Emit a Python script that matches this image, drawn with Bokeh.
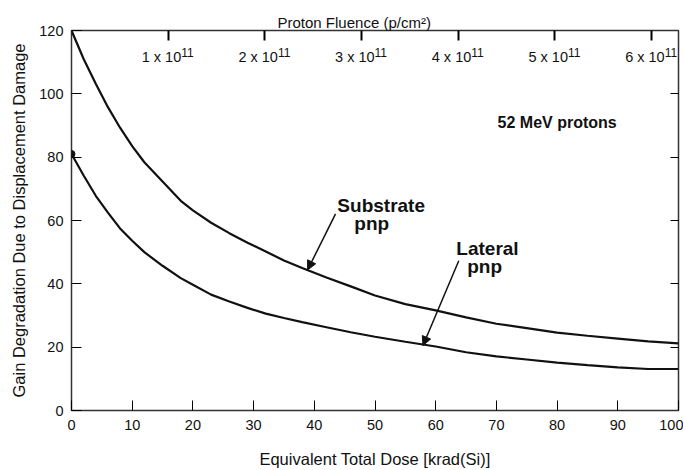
from bokeh.plotting import figure
from bokeh.models import (LinearAxis, FixedTicker, Range1d, Label, Arrow, NormalHead,
                          ColumnDataSource, CustomJSTickFormatter)
from bokeh.embed import file_html
from bokeh.resources import INLINE
from bokeh.core.properties import value

# ---- data ----
dose = [0, 2, 4, 6, 8, 10, 12, 15, 18, 20, 23, 26, 29, 32, 35, 38, 42, 46, 50,
        55, 60, 65, 70, 75, 80, 85, 90, 95, 100]
substrate = [120, 111, 103.2, 95.8, 89.3, 83.5, 78.4, 72.3, 66.2, 63.2, 59.3, 56.0,
             53.0, 50.2, 47.4, 45.0, 42.0, 39.2, 36.3, 33.6, 31.6, 29.4, 27.4, 26.0,
             24.6, 23.6, 22.7, 21.8, 21.2]
lateral = [81, 74.2, 67.8, 62.5, 57.5, 53.6, 50.0, 45.7, 41.8, 39.7, 36.6, 34.4,
           32.4, 30.6, 29.2, 27.9, 26.3, 24.7, 23.3, 21.7, 20.2, 18.4, 17.1, 16.1,
           15.1, 14.3, 13.6, 13.1, 13.1]

x_ticks = [0, 10, 20, 30, 40, 50, 60, 70, 80, 90, 100]
y_ticks = [0, 20, 40, 60, 80, 100, 120]
right_ticks = [20, 40, 60, 80, 100]
fluence_units = [1, 2, 3, 4, 5, 6]          # x 10^11 p/cm^2
dose_per_1e11 = 15.93                         # krad(Si) per 1e11 p/cm^2
fluence_base = ["%d x 10" % f for f in fluence_units]
fluence_exp = ["11"] * len(fluence_units)

FONT = "Liberation Sans"

p = figure(width=683, height=470, output_backend="svg", toolbar_location=None,
           x_range=Range1d(0, 100), y_range=Range1d(0, 120),
           min_border_left=71, min_border_right=5, min_border_top=30,
           min_border_bottom=60)
p.background_fill_color = "white"
p.border_fill_color = "white"
p.outline_line_color = "#333333"
p.outline_line_width = 1.5
p.xgrid.visible = False
p.ygrid.visible = False

def style_axis(ax, tick_len, width=1):
    ax.axis_line_color = None
    ax.major_tick_in = tick_len
    ax.major_tick_out = 0
    ax.minor_tick_line_color = None
    ax.major_tick_line_color = "black"
    ax.major_tick_line_width = width
    ax.major_label_text_font = FONT
    ax.major_label_text_font_size = "14.5px"
    ax.major_label_text_color = "#111111"
    ax.major_label_text_line_height = 1.0
    ax.axis_label_text_font = FONT
    ax.axis_label_text_font_style = "normal"
    ax.axis_label_text_font_size = "16.5px"
    ax.axis_label_text_color = "#111111"
    ax.axis_label_text_line_height = 1.0

xa = p.xaxis[0]
xa.ticker = FixedTicker(ticks=x_ticks)
style_axis(xa, 10)
xa.major_label_standoff = 9
xa.axis_label = "Equivalent Total Dose [krad(Si)]"
xa.axis_label_standoff = 17

ya = p.yaxis[0]
ya.ticker = FixedTicker(ticks=y_ticks)
style_axis(ya, 10)
ya.major_label_standoff = 8
ya.axis_label = "Gain Degradation Due to Displacement Damage"
ya.axis_label_standoff = 8

blank = CustomJSTickFormatter(code="return ''")
top = LinearAxis(ticker=FixedTicker(ticks=[f * dose_per_1e11 for f in fluence_units]),
                 formatter=blank)
style_axis(top, 10, width=2)
top.major_label_standoff = 0
p.add_layout(top, "above")

right = LinearAxis(ticker=FixedTicker(ticks=right_ticks), formatter=blank)
style_axis(right, 8)
right.major_label_standoff = 0
p.add_layout(right, "right")

# title of the top (fluence) axis
p.title.text = "Proton Fluence (p/cm²)"
p.title.align = "left"
p.title.offset = 206
p.title.standoff = 0
p.title.text_font = FONT
p.title.text_font_style = "normal"
p.title.text_font_size = "15px"
p.title.text_color = "#111111"

# curves
p.line(dose, substrate, line_color="#111111", line_width=2.2)
p.line(dose, lateral, line_color="#111111", line_width=2.2)
p.scatter([dose[0]], [lateral[0]], size=7, color="#111111")

# fluence tick labels inside the frame
fl_src = ColumnDataSource(dict(
    x=[f * dose_per_1e11 for f in fluence_units],
    base=fluence_base, exp=fluence_exp))
p.text(x="x", y=111.7, text="base", source=fl_src, text_font=value(FONT),
       text_font_size=value("14.5px"), text_align="right", text_baseline="alphabetic",
       x_offset=13, text_color="#111111")
p.text(x="x", y=113.1, text="exp", source=fl_src, text_font=value(FONT),
       text_font_size=value("12px"), text_align="left", text_baseline="alphabetic",
       x_offset=13, text_color="#111111")

def bold(x, y, t, size):
    p.add_layout(Label(x=x, y=y, text=t, text_font=FONT, text_font_style="bold",
                       text_font_size=size, text_align="left",
                       text_baseline="alphabetic", text_color="#111111"))

bold(43.8, 64.7, "Substrate", "19px")
bold(46.6, 59.0, "pnp", "19px")
bold(63.4, 51.1, "Lateral", "19px")
bold(65.2, 45.6, "pnp", "19px")
bold(70.2, 91.1, "52 MeV protons", "16px")

for xs, ys, xe, ye in [(43.5, 62.1, 38.9, 44.4), (63.8, 47.3, 57.9, 20.5)]:
    p.add_layout(Arrow(x_start=xs, y_start=ys, x_end=xe, y_end=ye,
                       line_width=1.5, line_color="#111111",
                       end=NormalHead(size=9, fill_color="#111111",
                                      line_color="#111111")))

open("out.html", "w").write(file_html(p, INLINE))
